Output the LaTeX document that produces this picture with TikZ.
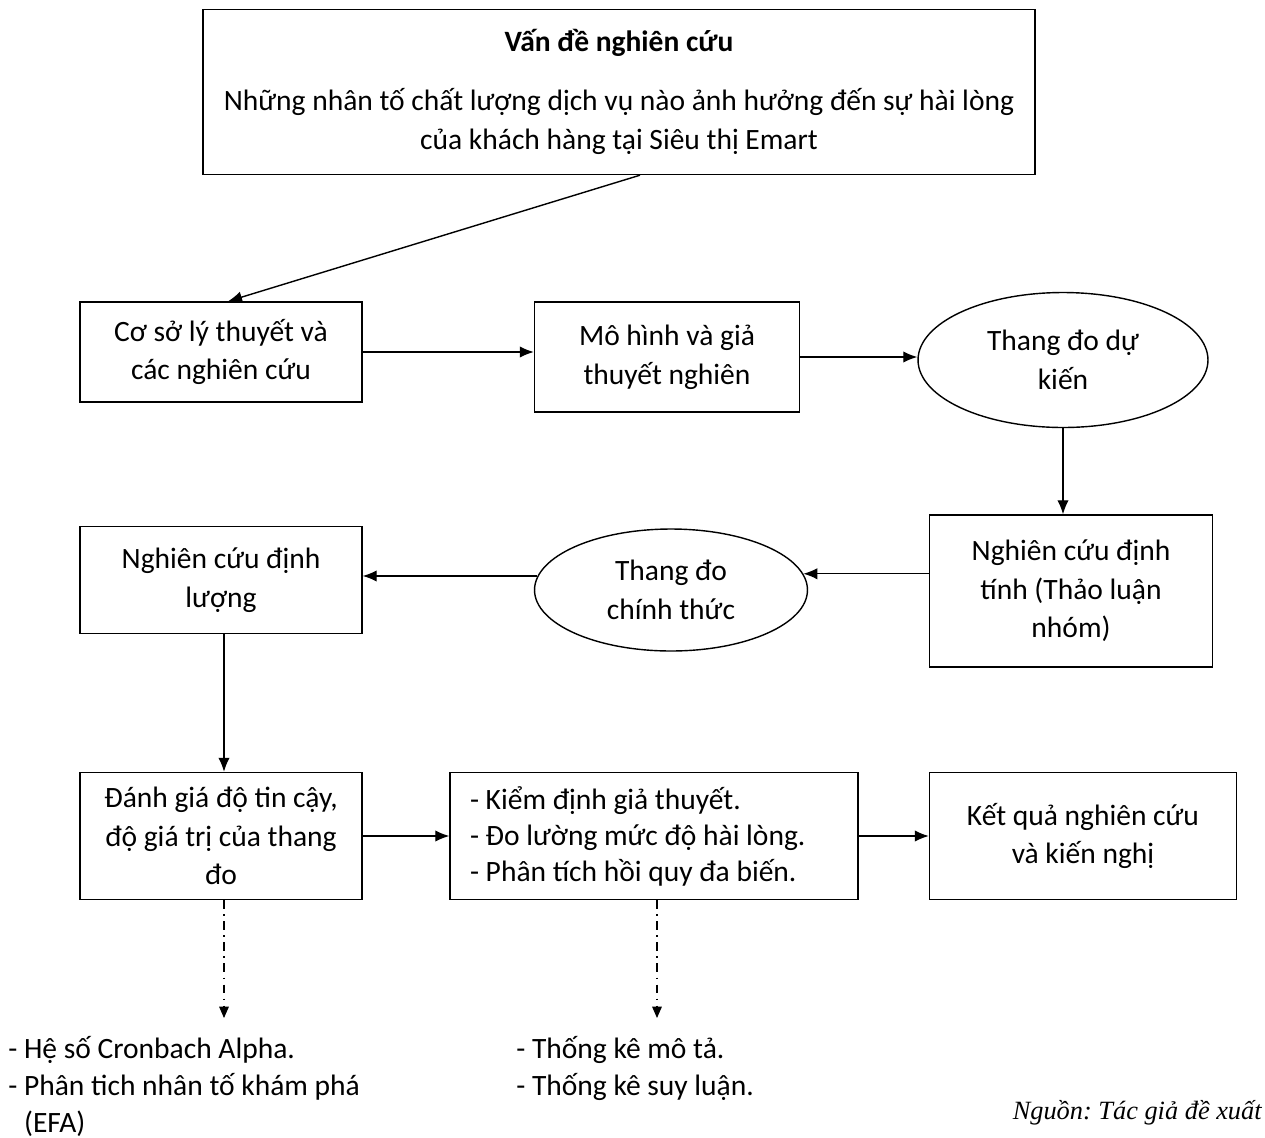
\documentclass[tikz,border=0pt]{standalone}
\usepackage{fontspec}
\setmainfont{Carlito}
\newfontfamily\nguonfont{Liberation Serif}
\usepackage{tikz}
\usetikzlibrary{shapes, arrows, arrows.meta, positioning}
\frenchspacing
\tikzstyle{hop} = [draw, line width=0.8pt, rectangle, align=center, inner sep=4pt, font=\fontsize{16.8}{22}\selectfont]
\tikzstyle{elip} = [draw, line width=0.8pt, ellipse, align=center, inner sep=0pt, font=\fontsize{16.8}{22}\selectfont]
\tikzstyle{muiten} = [-{Latex[length=8pt, width=6.5pt]}, line width=0.8pt]
\tikzstyle{chamgach} = [-{Triangle[length=6.5pt, width=5.5pt]}, line width=0.6pt, dash pattern=on 5pt off 3pt on 1pt off 3pt]
\tikzstyle{ghichu} = [align=flush left, anchor=north west, inner sep=0pt, font=\fontsize{16.8}{21}\selectfont]

\begin{document}
\begin{tikzpicture}[x=0.02cm, y=-0.02cm]
		\path[fill=white, use as bounding box] (0,0) rectangle (1265,1137);
		\node [hop, minimum width=16.64cm, minimum height=3.3cm] (vande) at (619,92) {%
			{\bfseries Vấn đề nghiên cứu}\\[0.4cm]
			Những nhân tố chất lượng dịch vụ nào ảnh hưởng đến sự hài lòng\\
			của khách hàng tại Siêu thị Emart};
		\node [hop, minimum width=5.64cm, minimum height=2cm] (coso) at (221,352) {Cơ sở lý thuyết và\\các nghiên cứu};
		\node [hop, minimum width=5.3cm, minimum height=2.2cm] (mohinh) at (667,357) {Mô hình và giả\\thuyết nghiên};
		\node [elip, minimum width=5.8cm, minimum height=2.7cm] (thangdo) at (1063,360) {Thang đo dự\\kiến};
		\node [hop, minimum width=5.66cm, minimum height=3.04cm] (dinhtinh) at (1071,591) {Nghiên cứu định\\tính (Thảo luận\\nhóm)};
		\node [elip, minimum width=5.46cm, minimum height=2.44cm] (chinhthuc) at (671,590) {Thang đo\\chính thức};
		\node [hop, minimum width=5.64cm, minimum height=2.14cm] (dinhluong) at (221,580) {Nghiên cứu định\\lượng};
		\node [hop, minimum width=5.64cm, minimum height=2.54cm] (danhgia) at (221,836) {Đánh giá độ tin cậy,\\độ giá trị của thang\\đo};
		\node [hop, minimum width=8.16cm, minimum height=2.54cm, text width=7.36cm, inner xsep=0.4cm, align=flush left, font=\fontsize{16.8}{20.5}\selectfont] (kiemdinh) at (654,836) {- Kiểm định giả thuyết.\\- Đo lường mức độ hài lòng.\\- Phân tích hồi quy đa biến.};
		\node [hop, minimum width=6.14cm, minimum height=2.54cm] (ketqua) at (1083,836) {Kết quả nghiên cứu\\và kiến nghị};
		\coordinate (hetso) at (224,1018);
		\coordinate (thongke) at (657,1018);

		\draw [muiten] ([xshift=0.42cm]vande.south) -- ([xshift=0.14cm]coso.north);
		\draw [muiten] (coso.east) -- (coso.east -| mohinh.west);
		\draw [muiten] (mohinh.east) -- (mohinh.east -| thangdo.west);
		\draw [muiten] (thangdo.south) -- (thangdo.south |- dinhtinh.north);
		\draw [muiten] (dinhtinh.west |- chinhthuc.7) -- (chinhthuc.7);
		\draw [muiten] (chinhthuc.174) -- (chinhthuc.174 -| dinhluong.east);
		\draw [muiten] ([xshift=0.06cm]dinhluong.south) -- ([xshift=0.06cm]danhgia.north);
		\draw [muiten] (danhgia.east) -- (kiemdinh.west);
		\draw [muiten] (kiemdinh.east) -- (ketqua.west);
		\draw [chamgach] (danhgia.south -| hetso) -- (hetso);
		\draw [chamgach] (kiemdinh.south -| thongke) -- (thongke);

		\node [ghichu] (phantich) at (8,1036) {- Hệ số Cronbach Alpha.\\- Phân tich nhân tố khám phá\\\phantom{- }(EFA)};
		\node [ghichu] (mota) at (516,1036) {- Thống kê mô tả.\\- Thống kê suy luận.};
		\node [anchor=base east, inner sep=0pt, font=\nguonfont\itshape\fontsize{15}{18}\selectfont] (nguon) at (1262,1119) {Nguồn: Tác giả đề xuất};
	\end{tikzpicture}
\end{document}
